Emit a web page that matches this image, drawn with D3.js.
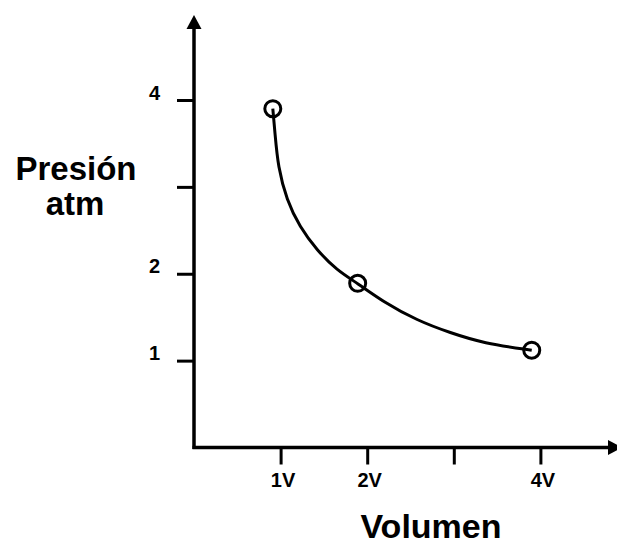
<!DOCTYPE html>
<html>
<head>
<meta charset="utf-8">
<script src="https://cdn.jsdelivr.net/npm/d3@7"></script>
<style>
  body { margin: 0; background: #fff; }
  text { font-family: "Liberation Sans", Arial, sans-serif; font-weight: bold; fill: #000; }
</style>
</head>
<body>
<svg id="chart" width="617" height="546"></svg>
<script>
// tick values and labels
const xTicks = [1, 2, 3, 4]
const xTickLabels = ['1V', '2V', '', '4V']
const yTicks = [1, 2, 3, 4]
const yTickLabels = ['1', '2', '', '4']

// measured states (volume, pressure)
const pointVol = [0.91, 1.89, 3.90]
const pointPres = [3.90, 1.89, 1.12]

// points
const curveVol = [0.91, 0.91, 0.935, 0.97, 1.07, 1.22, 1.42, 1.65, 1.89, 2.18, 2.58, 2.96, 3.34, 3.90, 3.90]
const curvePres = [3.90, 3.90, 3.62, 3.23, 2.85, 2.54, 2.27, 2.04, 1.89, 1.68, 1.46, 1.32, 1.20, 1.12, 1.12]

const svg = d3.select('#chart')

const x = d3.scaleLinear().domain([0, 4]).range([194, 540.4])
const y = d3.scaleLinear().domain([0, 4]).range([447.5, 100])

// y axis
const yAxis = svg.append('g')
  .attr('class', 'yaxis')
  .attr('transform', 'translate(' + x(0) + ',0)')
  .call(d3.axisLeft(y).tickValues(yTicks).tickSize(17).tickPadding(17)
    .tickFormat(function (d, i) { return yTickLabels[i] }))
yAxis.select('.domain').remove()
yAxis.selectAll('line').attr('stroke', '#000').attr('stroke-width', 3)
yAxis.selectAll('text').attr('dy', '-1px').attr('font-size', 20).attr('fill', '#000')

// x axis
const xAxis = svg.append('g')
  .attr('class', 'xaxis')
  .attr('transform', 'translate(0,' + y(0) + ')')
  .call(d3.axisBottom(x).tickValues(xTicks).tickSize(17)
    .tickFormat(function (d, i) { return xTickLabels[i] }))
xAxis.select('.domain').remove()
xAxis.selectAll('line').attr('stroke', '#000').attr('stroke-width', 3)
xAxis.selectAll('text').attr('y', 39.5).attr('dy', 0).attr('dx', 2).attr('font-size', 20).attr('fill', '#000')

// axis lines with arrow heads
svg.append('line')
  .attr('x1', x(0)).attr('y1', y(0) + 1.5)
  .attr('x2', x(0)).attr('y2', 26)
  .attr('stroke', '#000').attr('stroke-width', 3.5)
svg.append('path')
  .attr('d', 'M' + x(0) + ',15 L' + (x(0) - 7.5) + ',29 L' + (x(0) + 7.5) + ',29 Z')
  .attr('fill', '#000')

svg.append('line')
  .attr('x1', x(0) - 1.5).attr('y1', y(0))
  .attr('x2', 610).attr('y2', y(0))
  .attr('stroke', '#000').attr('stroke-width', 3.5)
svg.append('path')
  .attr('d', 'M622,' + y(0) + ' L608,' + (y(0) - 7.5) + ' L608,' + (y(0) + 7.5) + ' Z')
  .attr('fill', '#000')

// curve (basis spline smooths the hand-read points)
const line = d3.line()
  .x(function (d) { return x(d[0]) })
  .y(function (d) { return y(d[1]) })
  .curve(d3.curveBasis)

svg.append('path')
  .datum(d3.zip(curveVol, curvePres))
  .attr('d', line)
  .attr('fill', 'none')
  .attr('stroke', '#000')
  .attr('stroke-width', 3)

// state markers
svg.selectAll('.pt')
  .data(d3.zip(pointVol, pointPres))
  .join('circle')
  .attr('class', 'pt')
  .attr('cx', function (d) { return x(d[0]) })
  .attr('cy', function (d) { return y(d[1]) })
  .attr('r', 8)
  .attr('fill', 'none')
  .attr('stroke', '#000')
  .attr('stroke-width', 3)

// axis titles
svg.append('text')
  .attr('x', 76).attr('y', 180)
  .attr('text-anchor', 'middle').attr('font-size', 33)
  .text('Presión')
svg.append('text')
  .attr('x', 75).attr('y', 215)
  .attr('text-anchor', 'middle').attr('font-size', 33)
  .text('atm')
svg.append('text')
  .attr('x', 431).attr('y', 538)
  .attr('text-anchor', 'middle').attr('font-size', 34)
  .text('Volumen')
</script>
</body>
</html>
